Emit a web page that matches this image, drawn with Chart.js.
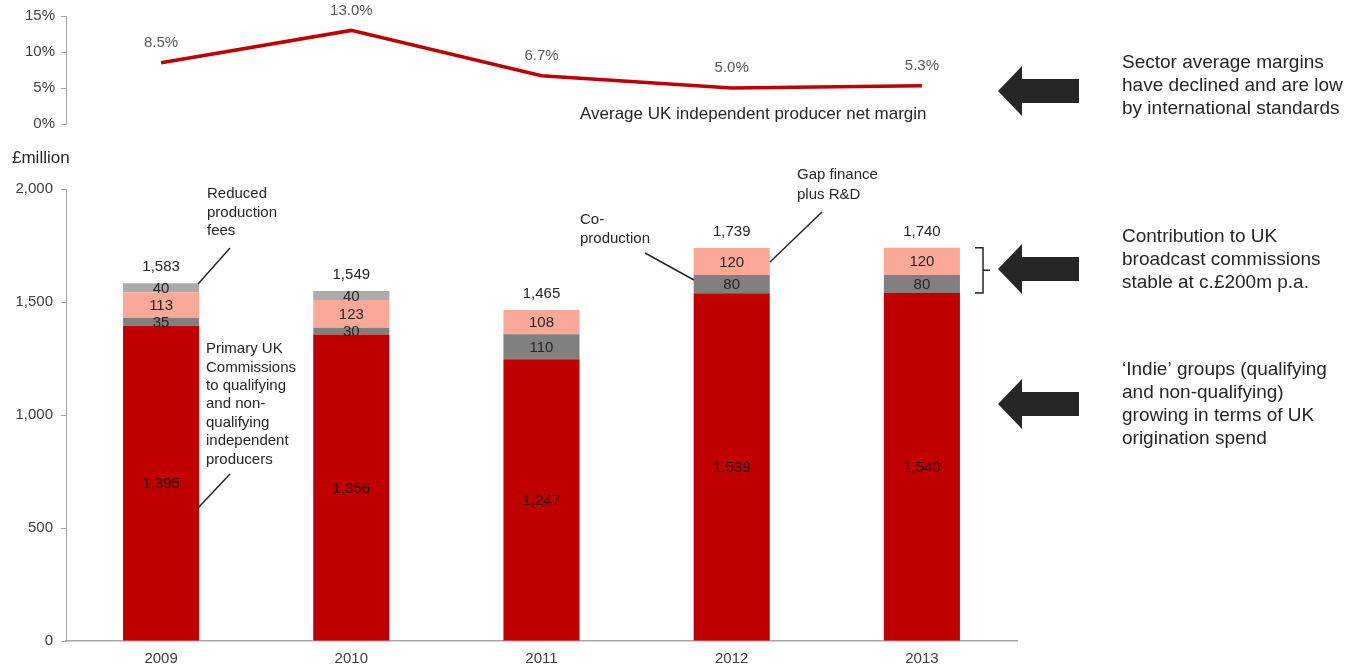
<!DOCTYPE html>
<html>
<head>
<meta charset="utf-8">
<script src="https://cdn.jsdelivr.net/npm/chart.js@4.4.0/dist/chart.umd.min.js"></script>
<style>
  html, body { margin: 0; padding: 0; background: #fff; }
  #wrap { position: relative; width: 1355px; height: 666px; overflow: hidden; }
  canvas { position: absolute; left: 0; top: 0; }
</style>
</head>
<body>
<div id="wrap">
  <canvas id="bars" width="1355" height="666"></canvas>
  <canvas id="margin" width="1355" height="140"></canvas>
</div>
<script>
// data
const years = ['2009', '2010', '2011', '2012', '2013'];
const netMargin = [8.5, 13.0, 6.7, 5.0, 5.3];
const primaryCommissions = [1395, 1356, 1247, 1539, 1540];
const coProduction = [35, 30, 110, 80, 80];
const gapFinance = [113, 123, 108, 120, 120];
const reducedFees = [40, 40, null, null, null];
const totals = [1583, 1549, 1465, 1739, 1740];

const FONT = '"Liberation Sans", Arial, sans-serif';
const TICK_COLOR = '#404040';
const AXIS_COLOR = '#A6A6A6';

function fmt(n) {
    return n.toLocaleString('en-US');
}

// top chart: net margin line
const marginLabels = {
    id: 'marginLabels',
    afterDatasetsDraw(chart) {
        const ctx = chart.ctx;
        const meta = chart.getDatasetMeta(0);
        ctx.save();
        ctx.font = '15px ' + FONT;
        ctx.fillStyle = '#595959';
        ctx.textAlign = 'center';
        ctx.textBaseline = 'middle';
        meta.data.forEach((pt, i) => {
            ctx.fillText(netMargin[i].toFixed(1) + '%', pt.x, pt.y - 20);
        });
        ctx.font = '17px ' + FONT;
        ctx.fillStyle = '#262626';
        ctx.textAlign = 'left';
        ctx.fillText('Average UK independent producer net margin', 580, 114);
        ctx.restore();
    }
};

new Chart(document.getElementById('margin'), {
    type: 'line',
    data: {
        labels: years,
        datasets: [{
            data: netMargin,
            borderColor: '#C00000',
            borderWidth: 3.5,
            pointRadius: 0,
            tension: 0,
            fill: false
        }]
    },
    options: {
        responsive: false,
        animation: false,
        layout: { padding: { left: 0, right: 338, top: 16, bottom: 16 } },
        plugins: { legend: { display: false }, tooltip: { enabled: false } },
        scales: {
            x: { display: false, offset: true },
            y: {
                min: 0,
                max: 15,
                afterFit: s => { s.width = 66; },
                border: { display: true, color: AXIS_COLOR },
                grid: { drawOnChartArea: false, drawTicks: true, tickLength: 5, color: AXIS_COLOR },
                ticks: {
                    stepSize: 5,
                    padding: 6,
                    color: TICK_COLOR,
                    font: { family: FONT, size: 15 },
                    callback: v => v + '%'
                }
            }
        }
    },
    plugins: [marginLabels]
});

// bottom chart: stacked bars plus annotations
function drawArrow(ctx, cy) {
    ctx.beginPath();
    ctx.moveTo(998, cy);
    ctx.lineTo(1022, cy - 25);
    ctx.lineTo(1022, cy - 12);
    ctx.lineTo(1079, cy - 12);
    ctx.lineTo(1079, cy + 12);
    ctx.lineTo(1022, cy + 12);
    ctx.lineTo(1022, cy + 25);
    ctx.closePath();
    ctx.fill();
}

function drawLines(ctx, lines, x, y, step) {
    lines.forEach((t, i) => ctx.fillText(t, x, y + i * step));
}

function leader(ctx, x1, y1, x2, y2) {
    ctx.beginPath();
    ctx.moveTo(x1, y1);
    ctx.lineTo(x2, y2);
    ctx.stroke();
}

const barLabels = {
    id: 'barLabels',
    afterDatasetsDraw(chart) {
        const ctx = chart.ctx;
        const yScale = chart.scales.y;
        ctx.save();
        ctx.font = '15px ' + FONT;
        ctx.textAlign = 'center';
        ctx.textBaseline = 'middle';
        chart.data.datasets.forEach((ds, di) => {
            const meta = chart.getDatasetMeta(di);
            meta.data.forEach((bar, i) => {
                const v = ds.data[i];
                if (v == null) return;
                ctx.fillStyle = di === 0 ? '#1a0000' : '#262626';
                ctx.fillText(fmt(v), bar.x, (bar.y + bar.base) / 2 + 1);
            });
        });
        const meta0 = chart.getDatasetMeta(0);
        ctx.fillStyle = '#262626';
        totals.forEach((t, i) => {
            ctx.fillText(fmt(t), meta0.data[i].x, yScale.getPixelForValue(t) - 16);
        });
        ctx.restore();
    },
    afterDraw(chart) {
        const ctx = chart.ctx;
        const yScale = chart.scales.y;
        ctx.save();
        ctx.fillStyle = '#262626';
        ctx.strokeStyle = '#262626';
        ctx.lineWidth = 1.5;

        ctx.font = '17px ' + FONT;
        ctx.textAlign = 'left';
        ctx.textBaseline = 'middle';
        ctx.fillText('£million', 12, 158);

        // callouts
        ctx.font = '15px ' + FONT;
        drawLines(ctx, ['Reduced', 'production', 'fees'], 207, 194, 18.5);
        leader(ctx, 198, 284, 230, 248);
        drawLines(ctx, ['Primary UK', 'Commissions', 'to qualifying', 'and non-', 'qualifying', 'independent', 'producers'], 206, 349, 18.4);
        leader(ctx, 198, 508, 230, 474);
        drawLines(ctx, ['Co-', 'production'], 580, 220, 19);
        leader(ctx, 645, 253, 694, 280);
        drawLines(ctx, ['Gap finance', 'plus R&D'], 797, 175, 19.5);
        leader(ctx, 770, 262, 822, 212);

        // bracket around 2013 co-production + gap finance
        const bTop = yScale.getPixelForValue(totals[4]);
        const bBot = yScale.getPixelForValue(primaryCommissions[4]);
        ctx.lineWidth = 1.5;
        ctx.beginPath();
        ctx.moveTo(975, bTop);
        ctx.lineTo(983, bTop);
        ctx.lineTo(983, bBot);
        ctx.lineTo(975, bBot);
        ctx.moveTo(983, (bTop + bBot) / 2);
        ctx.lineTo(990, (bTop + bBot) / 2);
        ctx.stroke();

        // arrows
        drawArrow(ctx, 91);
        drawArrow(ctx, 269);
        drawArrow(ctx, 404);

        // right-hand notes
        ctx.font = '19px ' + FONT;
        drawLines(ctx, ['Sector average margins', 'have declined and are low', 'by international standards'], 1122, 63, 23);
        drawLines(ctx, ['Contribution to UK', 'broadcast commissions', 'stable at c.£200m p.a.'], 1122, 237, 23);
        drawLines(ctx, ['\u2018Indie\u2019 groups (qualifying', 'and non-qualifying)', 'growing in terms of UK', 'origination spend'], 1122, 370, 23);
        ctx.restore();
    }
};

new Chart(document.getElementById('bars'), {
    type: 'bar',
    data: {
        labels: years,
        datasets: [
            { label: 'Primary UK Commissions', data: primaryCommissions, backgroundColor: '#C00000' },
            { label: 'Co-production', data: coProduction, backgroundColor: '#808080' },
            { label: 'Gap finance plus R&D', data: gapFinance, backgroundColor: '#FAA898' },
            { label: 'Reduced production fees', data: reducedFees, backgroundColor: '#ABABAB' }
        ]
    },
    options: {
        responsive: false,
        animation: false,
        layout: { padding: { left: 0, right: 338, top: 189, bottom: 0 } },
        datasets: { bar: { categoryPercentage: 1, barPercentage: 0.4 } },
        plugins: { legend: { display: false }, tooltip: { enabled: false } },
        scales: {
            x: {
                stacked: true,
                afterFit: s => { s.height = 25; },
                border: { display: true, color: AXIS_COLOR, width: 1.5 },
                grid: { display: false, drawTicks: false },
                ticks: { padding: 9, color: TICK_COLOR, font: { family: FONT, size: 15 } }
            },
            y: {
                stacked: true,
                min: 0,
                max: 2000,
                afterFit: s => { s.width = 66; },
                border: { display: true, color: AXIS_COLOR },
                grid: { drawOnChartArea: false, drawTicks: true, tickLength: 5, color: AXIS_COLOR },
                ticks: {
                    stepSize: 500,
                    padding: 8,
                    color: TICK_COLOR,
                    font: { family: FONT, size: 15 },
                    callback: v => fmt(v)
                }
            }
        }
    },
    plugins: [barLabels]
});
</script>
</body>
</html>
